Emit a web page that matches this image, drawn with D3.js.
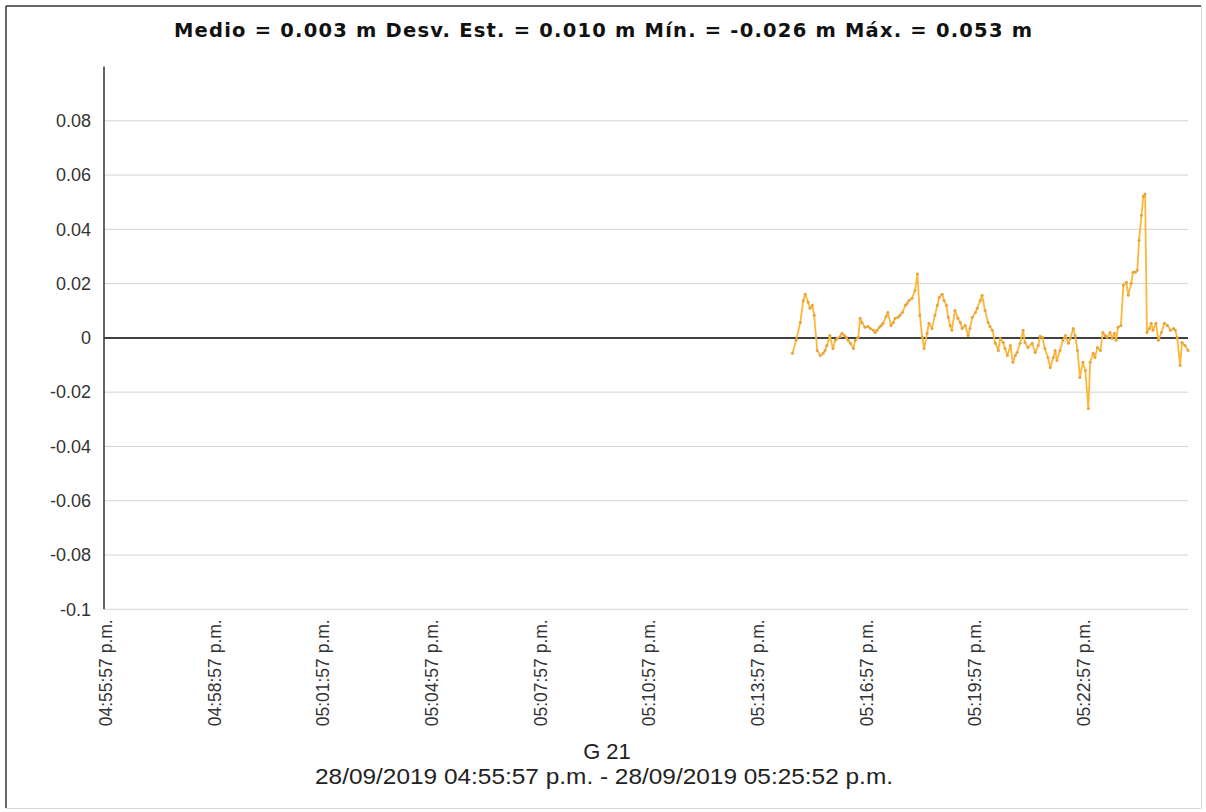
<!DOCTYPE html>
<html>
<head>
<meta charset="utf-8">
<script src="https://cdn.jsdelivr.net/npm/d3@7"></script>
<style>
  html, body { margin: 0; padding: 0; background: #fff; }
  svg { display: block; }
</style>
</head>
<body>
<svg id="chart" width="1206" height="812"></svg>
<script>
// ---------------- data ----------------
const titleText = "Medio = 0.003 m Desv. Est. = 0.010 m Mín. = -0.026 m Máx. = 0.053 m";
const seriesName = "G 21";
const rangeText = "28/09/2019 04:55:57 p.m. - 28/09/2019 05:25:52 p.m.";

// seconds after 04:55:57 p.m.
const xTickSecs = [0, 180, 360, 540, 720, 900, 1080, 1260, 1440, 1620];
const xTickLabels = ["04:55:57 p.m.", "04:58:57 p.m.", "05:01:57 p.m.", "05:04:57 p.m.", "05:07:57 p.m.",
                     "05:10:57 p.m.", "05:13:57 p.m.", "05:16:57 p.m.", "05:19:57 p.m.", "05:22:57 p.m."];
const yTickValues = [0.08, 0.06, 0.04, 0.02, 0, -0.02, -0.04, -0.06, -0.08, -0.1];
const yTickLabels = ["0.08", "0.06", "0.04", "0.02", "0", "-0.02", "-0.04", "-0.06", "-0.08", "-0.1"];

const secs = [
  1140,1146,1153,1158,1161,1166,1169,1173,1176,1181,
  1186,1191,1194,1197,1202,1207,1211,1214,1219,1222,
  1226,1229,1232,1236,1241,1244,1249,1252,1255,1260,
  1265,1269,1274,1277,1280,1284,1287,1290,1295,1298,
  1303,1307,1310,1315,1318,1322,1327,1330,1333,1338,
  1343,1347,1351,1355,1358,1363,1366,1371,1376,1380,
  1383,1388,1391,1395,1398,1401,1404,1409,1414,1418,
  1421,1426,1431,1434,1438,1443,1446,1451,1454,1459,
  1464,1467,1471,1476,1481,1484,1489,1492,1496,1501,
  1505,1509,1512,1517,1522,1525,1530,1537,1542,1547,
  1550,1554,1558,1563,1567,1572,1575,1578,1583,1588,
  1592,1597,1600,1605,1608,1612,1616,1621,1625,1630,
  1633,1638,1641,1645,1650,1654,1658,1661,1666,1669,
  1673,1676,1679,1684,1688,1693,1696,1701,1704,1708,
  1711,1714,1718,1721,1724,1727,1731,1734,1737,1742,
  1746,1751,1756,1761,1766,1771,1774,1777,1782,1785,
  1790,1795
];
const vals = [
  -0.0057,-0.0009,0.0057,0.0138,0.0161,0.0131,0.0109,0.0120,0.0083,-0.0046,
  -0.0065,-0.0057,-0.0046,-0.0028,0.0009,-0.0039,-0.0009,-0.0002,0.0005,0.0017,
  0.0009,0.0002,-0.0009,-0.0020,-0.0039,-0.0009,0.0002,0.0072,0.0057,0.0039,
  0.0042,0.0035,0.0028,0.0020,0.0028,0.0039,0.0046,0.0054,0.0079,0.0094,
  0.0046,0.0057,0.0072,0.0076,0.0083,0.0094,0.0120,0.0127,0.0138,0.0146,
  0.0175,0.0235,0.0083,0.0002,-0.0039,0.0017,0.0054,0.0035,0.0083,0.0120,
  0.0149,0.0161,0.0138,0.0120,0.0076,0.0046,0.0028,0.0101,0.0072,0.0057,
  0.0035,0.0046,0.0009,0.0035,0.0076,0.0094,0.0109,0.0138,0.0157,0.0101,
  0.0057,0.0042,0.0028,-0.0020,-0.0046,-0.0002,-0.0017,-0.0039,-0.0065,-0.0028,
  -0.0090,-0.0065,-0.0054,-0.0020,0.0028,-0.0017,-0.0035,-0.0020,-0.0054,-0.0028,
  0.0006,0.0002,-0.0039,-0.0072,-0.0109,-0.0072,-0.0046,-0.0083,-0.0046,-0.0009,
  0.0009,-0.0020,-0.0002,0.0035,0.0009,-0.0046,-0.0146,-0.0090,-0.0120,-0.0260,
  -0.0090,-0.0057,-0.0072,-0.0035,-0.0046,0.0020,0.0009,0.0002,0.0020,-0.0002,
  0.0017,-0.0009,0.0039,0.0046,0.0194,0.0205,0.0157,0.0201,0.0242,0.0242,
  0.0249,0.0360,0.0452,0.0522,0.0530,0.0020,0.0035,0.0054,0.0028,0.0054,
  -0.0009,0.0020,0.0054,0.0046,0.0028,0.0035,0.0028,0.0002,-0.0101,-0.0017,
  -0.0028,-0.0046
];

// ---------------- drawing ----------------
(function () {
const svg = d3.select("#chart");
const W = 1206, H = 812;
const pLeft = 104, pRight = 1188, pTop = 66.5, pBottom = 609.3;
const sans = "Arial, 'Liberation Sans', sans-serif";

const x = d3.scaleLinear().domain([0, 1795]).range([pLeft, pRight]);
const y = d3.scaleLinear().domain([-0.1, 0.1]).range([pBottom, pTop]);

// outer frame
svg.append("rect").attr("x", 0).attr("y", 0).attr("width", W).attr("height", H).attr("fill", "#fff");
svg.append("line").attr("x1", 6).attr("x2", 6).attr("y1", 6).attr("y2", 808)
  .attr("stroke", "#333").attr("stroke-width", 1.5);
svg.append("line").attr("x1", 6).attr("x2", 1201).attr("y1", 6).attr("y2", 6)
  .attr("stroke", "#333").attr("stroke-width", 1.5);
svg.append("line").attr("x1", 6).attr("x2", 1201).attr("y1", 808.5).attr("y2", 808.5)
  .attr("stroke", "#d8d8d8").attr("stroke-width", 1);
svg.append("line").attr("x1", 1201.5).attr("x2", 1201.5).attr("y1", 6).attr("y2", 808)
  .attr("stroke", "#d8d8d8").attr("stroke-width", 1);

// horizontal gridlines
svg.append("g").selectAll("line").data(yTickValues.filter(v => v !== 0)).join("line")
  .attr("x1", pLeft).attr("x2", pRight)
  .attr("y1", d => y(d)).attr("y2", d => y(d))
  .attr("stroke", "#d4d4d4").attr("stroke-width", 1);

// zero line
svg.append("line").attr("x1", pLeft).attr("x2", pRight).attr("y1", y(0)).attr("y2", y(0))
  .attr("stroke", "#000").attr("stroke-width", 1.5);

// y axis labels via d3 axis
const yAxis = d3.axisLeft(y).tickValues(yTickValues).tickSize(0).tickPadding(0)
  .tickFormat((d, i) => yTickLabels[i]);
const gy = svg.append("g").attr("transform", `translate(${pLeft - 13},0)`).call(yAxis);
gy.select(".domain").remove();
gy.selectAll("text").attr("fill", "#333")
  .style("font-size", "18px").style("font-family", sans);

// y axis line
svg.append("line").attr("x1", pLeft).attr("x2", pLeft).attr("y1", pTop).attr("y2", pBottom)
  .attr("stroke", "#333").attr("stroke-width", 1.5);

// x axis labels via d3 axis (rotated)
const xAxis = d3.axisBottom(x).tickValues(xTickSecs).tickSize(0).tickPadding(0)
  .tickFormat((d, i) => xTickLabels[i]);
const gx = svg.append("g").attr("transform", `translate(0,${pBottom})`).call(xAxis);
gx.select(".domain").remove();
gx.selectAll("text")
  .attr("fill", "#333")
  .style("font-size", "17.5px").style("font-family", sans)
  .attr("text-anchor", "end")
  .attr("transform", "rotate(-90)")
  .attr("x", -10).attr("y", 0).attr("dy", "0.42em");

// series line
const pts = secs.map((s, i) => [s, vals[i]]).filter(p => p[1] !== undefined);
const line = d3.line().x(d => x(d[0])).y(d => y(d[1]));
svg.append("path").datum(pts).attr("d", line)
  .attr("fill", "none").attr("stroke", "#FCB73A").attr("stroke-width", 1.8)
  .attr("stroke-linejoin", "round");
svg.append("g").selectAll("circle").data(pts).join("circle")
  .attr("cx", d => x(d[0])).attr("cy", d => y(d[1])).attr("r", 1.5)
  .attr("fill", "#E8A33E");

// title
svg.append("text").attr("x", 603).attr("y", 37).attr("text-anchor", "middle")
  .style("font-family", "'DejaVu Sans', Verdana, sans-serif")
  .style("font-size", "19.5px").style("font-weight", "bold").attr("fill", "#111")
  .attr("textLength", 858).attr("lengthAdjust", "spacing")
  .text(titleText);

// footer
svg.append("text").attr("x", 607).attr("y", 759).attr("text-anchor", "middle")
  .style("font-size", "22px").style("font-family", sans).attr("fill", "#222").text(seriesName);
svg.append("text").attr("x", 604).attr("y", 784).attr("text-anchor", "middle")
  .style("font-size", "22px").style("font-family", sans).attr("fill", "#222")
  .attr("textLength", 578).attr("lengthAdjust", "spacingAndGlyphs")
  .text(rangeText);
})();
</script>
</body>
</html>
